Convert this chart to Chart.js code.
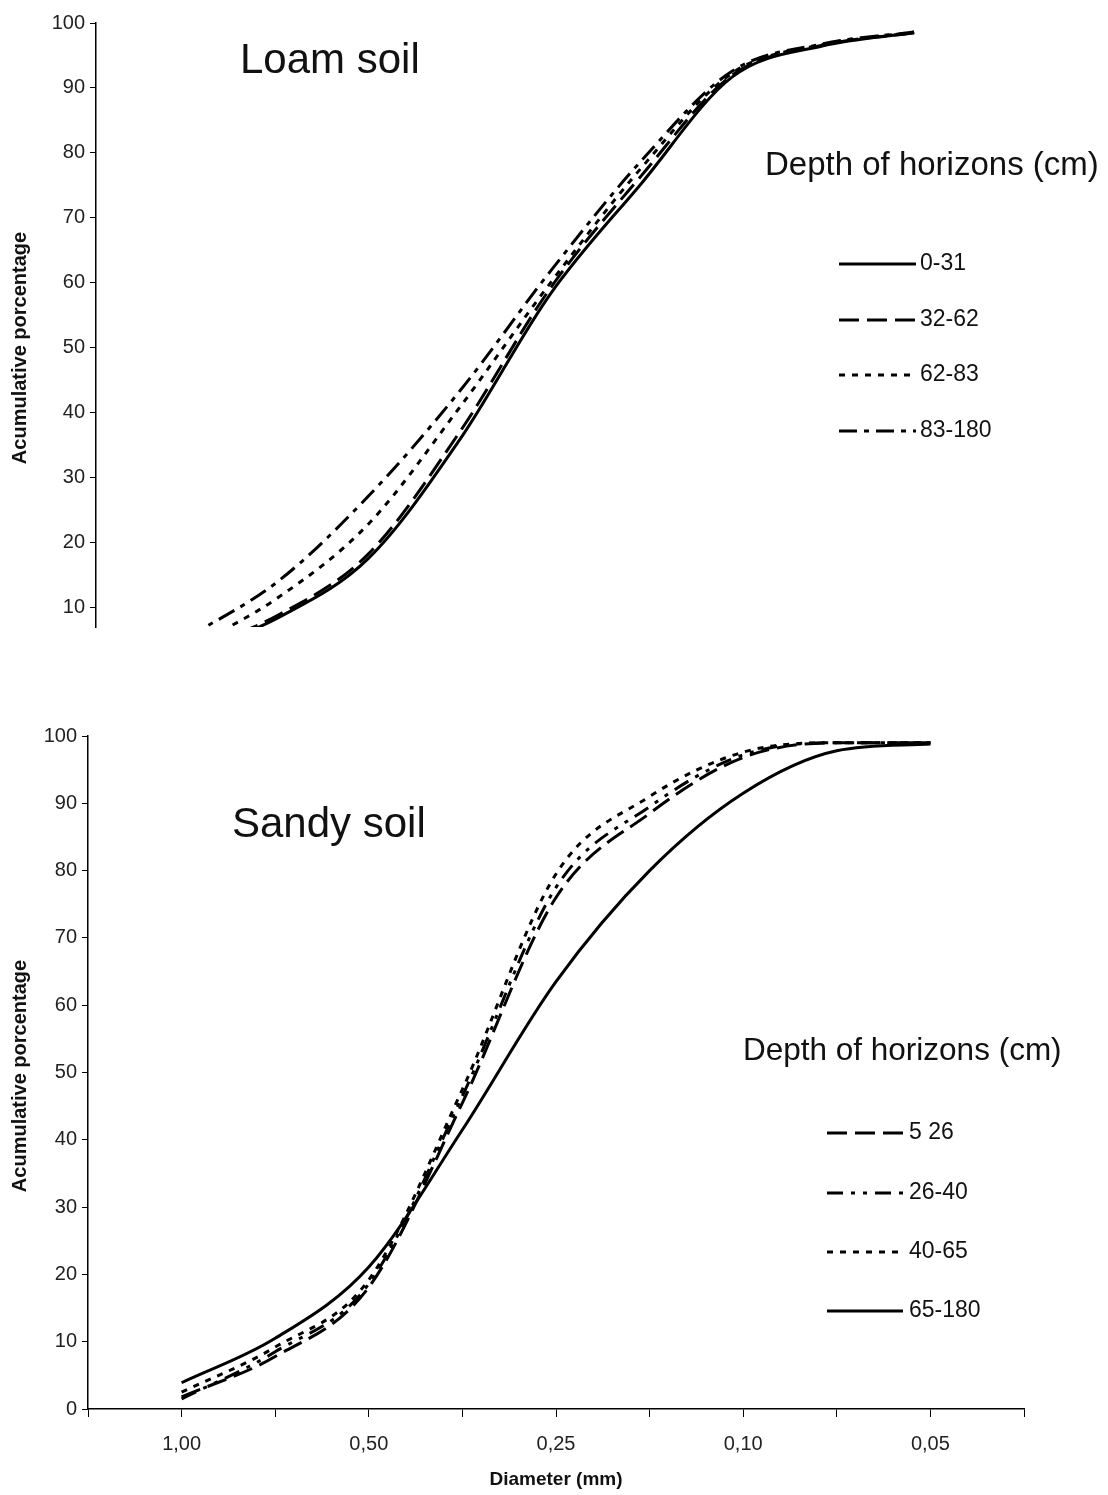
<!DOCTYPE html>
<html>
<head>
<meta charset="utf-8">
<script src="https://cdn.jsdelivr.net/npm/chart.js"></script>
<style>
    html, body { margin: 0; padding: 0; background: #fff; }
    .box { position: absolute; left: 0; width: 1108px; }
    #loam_box { top: 0; height: 650px; }
    #sandy_box { top: 650px; height: 845px; }
</style>
</head>
<body>
<div class="box" id="loam_box"><canvas id="loam_chart"></canvas></div>
<div class="box" id="sandy_box"><canvas id="sandy_chart"></canvas></div>
<script>
    // sieve classes (mm) - only every second one carries a label
    const diameterTicks = ['', '1,00', '', '0,50', '', '0,25', '', '0,10', '', '0,05', ''];

    // loam soil, cumulative % per horizon
    const loamLabels = ['0-31', '32-62', '62-83', '83-180'];
    const loam0_31   = [null, 2.5, 8.4, 17.6, 35.8, 58.3, 75.3, 91.7, 96.5, 98.5, null];
    const loam32_62  = [null, 3.0, 8.8, 18.3, 37.0, 59.2, 76.5, 92.0, 96.6, 98.5, null];
    const loam62_83  = [null, 3.5, 11.5, 22.9, 40.8, 60.0, 77.7, 92.3, 96.7, 98.6, null];
    const loam83_180 = [null, 5.3, 14.0, 27.2, 43.3, 61.8, 78.8, 92.6, 96.8, 98.6, null];

    // sandy soil, cumulative % per horizon
    const sandyLabels = ['5 26', '26-40', '40-65', '65-180'];
    const sandy5_26   = [null, 1.8, 7.8, 18.1, 45.5, 76.0, 88.5, 96.8, 99.0, 99.0, null];
    const sandy26_40  = [null, 1.5, 8.5, 18.6, 46.5, 77.5, 89.5, 97.2, 99.0, 99.0, null];
    const sandy40_65  = [null, 2.5, 9.2, 19.2, 47.5, 79.5, 91.0, 97.6, 99.0, 99.0, null];
    const sandy65_180 = [null, 3.9, 10.5, 21.1, 41.5, 63.5, 80.0, 91.5, 97.8, 98.8, null];

    const FONT = "'Liberation Sans', Arial, sans-serif";
    Chart.defaults.font.family = FONT;
    Chart.defaults.color = '#222';

    const SOLID = [], DASH = [20, 8], DOT = [6, 7];

    // titles, rotated y title and the hand placed legend
    const sheetText = {
        id: 'sheetText',
        afterDraw(chart, args, o) {
            const ctx = chart.ctx;
            ctx.save();
            ctx.fillStyle = '#111';
            ctx.textAlign = 'left';
            ctx.textBaseline = 'alphabetic';
            ctx.font = '42px ' + FONT;
            ctx.fillText(o.title, o.titleX, o.titleY);

            ctx.save();
            ctx.translate(o.yTitleX, o.yTitleY);
            ctx.rotate(-Math.PI / 2);
            ctx.font = 'bold 20px ' + FONT;
            ctx.textAlign = 'center';
            ctx.textBaseline = 'middle';
            ctx.fillText('Acumulative porcentage', 0, 0);
            ctx.restore();

            ctx.font = o.legendTitleSize + 'px ' + FONT;
            ctx.fillText('Depth of horizons (cm)', o.legendTitleX, o.legendTitleY);

            ctx.font = '23px ' + FONT;
            ctx.textBaseline = 'middle';
            chart.data.datasets.forEach((ds, i) => {
                const y = o.legendY[i];
                ctx.beginPath();
                ctx.setLineDash(ds.borderDash || []);
                ctx.lineWidth = ds.borderWidth;
                ctx.strokeStyle = ds.borderColor;
                ctx.moveTo(o.legendX1, y);
                ctx.lineTo(o.legendX2, y);
                ctx.stroke();
                ctx.setLineDash([]);
                ctx.fillText(ds.label, o.legendTextX, y);
            });
            ctx.restore();
        }
    };

    function line(label, data, dash) {
        return {
            label: label,
            data: data,
            borderColor: '#000',
            borderWidth: 3,
            borderDash: dash,
            pointRadius: 0,
            fill: false,
            cubicInterpolationMode: 'monotone'
        };
    }

    function yAxis(min, width) {
        return {
            min: min,
            max: 100,
            ticks: { stepSize: 10, padding: 5, font: { size: 20 } },
            afterBuildTicks: axis => { axis.ticks = axis.ticks.filter(t => t.value % 10 === 0); },
            afterFit: axis => { axis.width = width; },
            grid: { drawOnChartArea: false, drawTicks: true, tickLength: 6, color: '#000' },
            border: { display: true, color: '#000', width: 1.5 }
        };
    }

    new Chart(document.getElementById('loam_chart'), {
        type: 'line',
        data: {
            labels: diameterTicks,
            datasets: [
                line(loamLabels[0], loam0_31, SOLID),
                line(loamLabels[1], loam32_62, DASH),
                line(loamLabels[2], loam62_83, DOT),
                line(loamLabels[3], loam83_180, [18, 7, 5, 7])
            ]
        },
        options: {
            responsive: true,
            maintainAspectRatio: false,
            devicePixelRatio: 1,
            animation: false,
            layout: { padding: { left: 0, top: 23, right: 103, bottom: 23 } },
            scales: {
                x: { display: false, offset: false },
                y: yAxis(7, 96)
            },
            plugins: {
                legend: { display: false },
                tooltip: { enabled: false },
                sheetText: {
                    title: 'Loam soil', titleX: 240, titleY: 73,
                    yTitleX: 20, yTitleY: 348,
                    legendTitleSize: 33, legendTitleX: 765, legendTitleY: 175,
                    legendX1: 839, legendX2: 916, legendTextX: 920,
                    legendY: [264, 320, 375, 431]
                }
            }
        },
        plugins: [sheetText]
    });

    new Chart(document.getElementById('sandy_chart'), {
        type: 'line',
        data: {
            labels: diameterTicks,
            datasets: [
                line(sandyLabels[0], sandy5_26, DASH),
                line(sandyLabels[1], sandy26_40, [16, 8, 4, 8, 4, 8]),
                line(sandyLabels[2], sandy40_65, DOT),
                line(sandyLabels[3], sandy65_180, SOLID)
            ]
        },
        options: {
            responsive: true,
            maintainAspectRatio: false,
            devicePixelRatio: 1,
            animation: false,
            layout: { padding: { left: 0, top: 86, right: 84, bottom: 0 } },
            scales: {
                x: {
                    offset: false,
                    ticks: { autoSkip: false, maxRotation: 0, padding: 15, font: { size: 20 } },
                    afterFit: axis => { axis.height = 86; },
                    grid: { drawOnChartArea: false, drawTicks: true, tickLength: 8, color: '#000' },
                    border: { display: true, color: '#000', width: 1.5 },
                    title: {
                        display: true,
                        text: 'Diameter (mm)',
                        color: '#111',
                        font: { size: 19, weight: 'bold' },
                        padding: { top: 0, bottom: 4 }
                    }
                },
                y: yAxis(0, 88)
            },
            plugins: {
                legend: { display: false },
                tooltip: { enabled: false },
                sheetText: {
                    title: 'Sandy soil', titleX: 232, titleY: 187,
                    yTitleX: 20, yTitleY: 426,
                    legendTitleSize: 31.5, legendTitleX: 743, legendTitleY: 410,
                    legendX1: 827, legendX2: 903, legendTextX: 909,
                    legendY: [483, 543, 602, 661]
                }
            }
        },
        plugins: [sheetText]
    });
</script>
</body>
</html>
